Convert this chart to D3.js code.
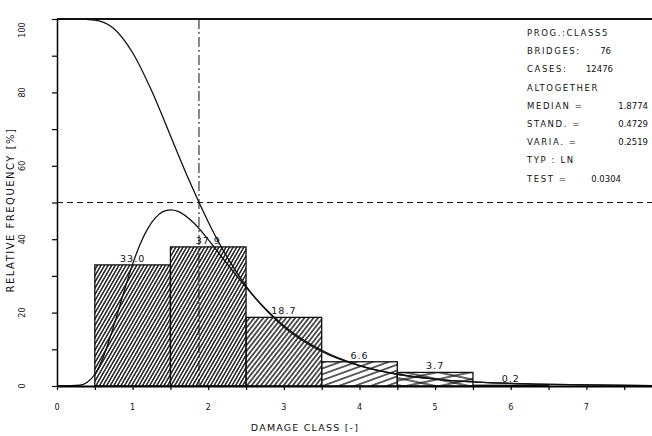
<!DOCTYPE html>
<html>
<head>
<meta charset="utf-8">
<script src="https://cdn.jsdelivr.net/npm/d3@7"></script>
<style>
  body { margin: 0; background: #fff; }
  text { font-family: "DejaVu Sans", sans-serif; fill: #111; }
</style>
</head>
<body>
<div id="chart"></div>
<script>
// Histogram of damage classes
const classes = [1, 2, 3, 4, 5, 6];
const freq = [33.0, 37.9, 18.7, 6.6, 3.7, 0.2];
const freqLabels = ["33.0", "37.9", "18.7", "6.6", "3.7", "0.2"];

// Fitted curves
const exceedX = [0, 0.25, 0.5, 0.75, 1.0, 1.25, 1.5, 1.75, 2.0, 2.25, 2.5, 3.0, 3.5, 4.0, 4.5, 5.0, 6.0, 7.0, 8.0];
const exceedY = [100, 100, 99.7, 97.4, 90.8, 80.5, 68.2, 55.9, 44.7, 35.1, 27.2, 16.1, 9.4, 5.5, 3.2, 1.9, 0.7, 0.3, 0.1];
const densX = [0, 0.3, 0.4, 0.5, 0.6, 0.7, 0.8, 0.9, 1.0, 1.1, 1.2, 1.3, 1.4, 1.5, 1.6, 1.8, 2.0, 2.25, 2.5, 2.75, 3.0, 3.5, 4.0, 4.5, 5.0, 6.0, 7.0, 8.0];
const densY = [0, 0.2, 1.0, 3.2, 7.3, 13.1, 19.8, 26.7, 33.2, 38.7, 42.9, 45.8, 47.5, 48.0, 47.6, 44.6, 39.9, 33.3, 26.9, 21.2, 16.4, 9.7, 5.6, 3.2, 1.9, 0.7, 0.3, 0.1];
const median = 1.8774;
const halfLine = 50;

// Ticks
const xTickLabels = [0, 1, 2, 3, 4, 5, 6, 7];
const xMinorTicks = [0, 0.5, 1, 1.5, 2, 2.5, 3, 3.5, 4, 4.5, 5, 5.5, 6, 6.5, 7, 7.5, 8];
const yTickLabels = [0, 20, 40, 60, 80, 100];
const yMinorTicks = [0, 10, 20, 30, 40, 50, 60, 70, 80, 90, 100];

// Info block
const infoKeys = ["PROG.:CLASS5", "BRIDGES:", "CASES:", "ALTOGETHER", "MEDIAN =", "STAND. =", "VARIA. =", "TYP : LN", "TEST ="];
const infoVals = ["", "76", "12476", "", "1.8774", "0.4729", "0.2519", "", "0.0304"];
const infoValEnd = [0, 611, 613, 0, 648, 648, 648, 0, 621];

const W = 652, H = 436;
const svg = d3.select("#chart").append("svg")
  .attr("width", W)
  .attr("height", H);

svg.append("rect").attr("width", W).attr("height", H).attr("fill", "#fff");

const x = d3.scaleLinear().domain([0, 8]).range([57, 662]);
const y = d3.scaleLinear().domain([0, 100]).range([386, 19]);

// Hatch patterns
const defs = svg.append("defs");
function hatch(id, angle, gap, sw) {
  const p = defs.append("pattern")
    .attr("id", id)
    .attr("patternUnits", "userSpaceOnUse")
    .attr("width", gap).attr("height", gap)
    .attr("patternTransform", `rotate(${angle})`);
  p.append("line")
    .attr("x1", 0).attr("y1", 0).attr("x2", gap).attr("y2", 0)
    .attr("stroke", "#111").attr("stroke-width", sw);
  p.append("line")
    .attr("x1", 0).attr("y1", gap).attr("x2", gap).attr("y2", gap)
    .attr("stroke", "#111").attr("stroke-width", sw);
}
hatch("h1", -60, 3.1, 1.4);
hatch("h2", -60, 3.1, 1.4);
hatch("h3", -52, 3.6, 1.4);
hatch("h4", -20, 5.5, 1.3);
hatch("h5a", -12, 7, 1.3);
hatch("h5b", 12, 7, 1.3);
const fills = ["url(#h1)", "url(#h2)", "url(#h3)", "url(#h4)", "url(#h5a)", "none"];

const bars = classes.map((c, i) => ({ c: c, v: freq[i], lab: freqLabels[i], fill: fills[i] }));

// Bars
svg.selectAll("rect.bar")
  .data(bars)
  .enter().append("rect")
  .attr("class", "bar")
  .attr("x", d => x(d.c - 0.5))
  .attr("y", d => y(d.v))
  .attr("width", d => x(d.c + 0.5) - x(d.c - 0.5))
  .attr("height", d => y(0) - y(d.v))
  .attr("fill", d => d.fill)
  .attr("stroke", "#111")
  .attr("stroke-width", 1.3);

// second direction for cross hatch of class 5
svg.selectAll("rect.cross")
  .data(bars.filter(d => d.c === 5))
  .enter().append("rect")
  .attr("x", d => x(d.c - 0.5))
  .attr("y", d => y(d.v))
  .attr("width", d => x(d.c + 0.5) - x(d.c - 0.5))
  .attr("height", d => y(0) - y(d.v))
  .attr("fill", "url(#h5b)");

// Bar labels
svg.selectAll("text.val")
  .data(bars)
  .enter().append("text")
  .attr("class", "val")
  .attr("x", d => x(d.c))
  .attr("y", d => y(d.v) - 3)
  .attr("text-anchor", "middle")
  .attr("font-size", "9.5px")
  .attr("letter-spacing", "1px")
  .text(d => d.lab);

// Reference lines
svg.append("line")
  .attr("x1", x(0)).attr("x2", W)
  .attr("y1", y(halfLine)).attr("y2", y(halfLine))
  .attr("stroke", "#111").attr("stroke-width", 1.2)
  .attr("stroke-dasharray", "6,4");

svg.append("line")
  .attr("x1", x(median)).attr("x2", x(median))
  .attr("y1", y(100)).attr("y2", y(0))
  .attr("stroke", "#111").attr("stroke-width", 1)
  .attr("stroke-dasharray", "10,3,2,3");

// Curves
const line = d3.line()
  .x(d => x(d[0]))
  .y(d => y(d[1]))
  .curve(d3.curveMonotoneX);

svg.append("path")
  .datum(exceedX.map((v, i) => [v, exceedY[i]]))
  .attr("d", line)
  .attr("fill", "none")
  .attr("stroke", "#111")
  .attr("stroke-width", 1.3);

svg.append("path")
  .datum(densX.map((v, i) => [v, densY[i]]))
  .attr("d", line)
  .attr("fill", "none")
  .attr("stroke", "#111")
  .attr("stroke-width", 1.3);

// Top frame
svg.append("line")
  .attr("x1", x(0)).attr("x2", W)
  .attr("y1", y(100)).attr("y2", y(100))
  .attr("stroke", "#111").attr("stroke-width", 2);

// Axes
const xAxis = svg.append("g")
  .attr("transform", `translate(0, ${y(0)})`)
  .call(d3.axisBottom(x).tickValues(xMinorTicks).tickSize(4).tickSizeOuter(0).tickFormat(""));
xAxis.select(".domain").attr("stroke-width", 2);
xAxis.selectAll(".tick line").attr("stroke-width", 1.2);

const yAxis = svg.append("g")
  .attr("transform", `translate(${x(0)}, 0)`)
  .call(d3.axisLeft(y).tickValues(yMinorTicks).tickSize(5).tickSizeOuter(0).tickFormat(""));
yAxis.select(".domain").attr("stroke-width", 1.5);
yAxis.selectAll(".tick line").attr("stroke-width", 1.2);

// Tick labels
svg.selectAll("text.xt")
  .data(xTickLabels)
  .enter().append("text")
  .attr("class", "xt")
  .attr("x", d => x(d))
  .attr("y", 410)
  .attr("text-anchor", "middle")
  .attr("font-size", "8px")
  .text(d => d);

svg.selectAll("text.yt")
  .data(yTickLabels)
  .enter().append("text")
  .attr("class", "yt")
  .attr("transform", d => `translate(25, ${Math.max(y(d), 30)}) rotate(-90)`)
  .attr("text-anchor", "middle")
  .attr("font-size", "8px")
  .text(d => d);

// Axis titles
svg.append("text")
  .attr("x", 305)
  .attr("y", 431)
  .attr("text-anchor", "middle")
  .attr("font-size", "9.5px")
  .attr("letter-spacing", "1.2px")
  .text("DAMAGE CLASS [-]");

svg.append("text")
  .attr("transform", "translate(14, 210) rotate(-90)")
  .attr("text-anchor", "middle")
  .attr("font-size", "10px")
  .attr("letter-spacing", "1.5px")
  .text("RELATIVE FREQUENCY [%]");

// Info block
const info = svg.append("g");
infoKeys.forEach((k, i) => {
  const yy = 36 + i * 18.2;
  info.append("text")
    .attr("x", 527).attr("y", yy)
    .attr("font-size", "8.5px")
    .attr("letter-spacing", "1.6px")
    .text(k);
  if (infoVals[i]) {
    info.append("text")
      .attr("x", infoValEnd[i]).attr("y", yy)
      .attr("text-anchor", "end")
      .attr("font-size", "8.5px")
      .text(infoVals[i]);
  }
});
</script>
</body>
</html>
